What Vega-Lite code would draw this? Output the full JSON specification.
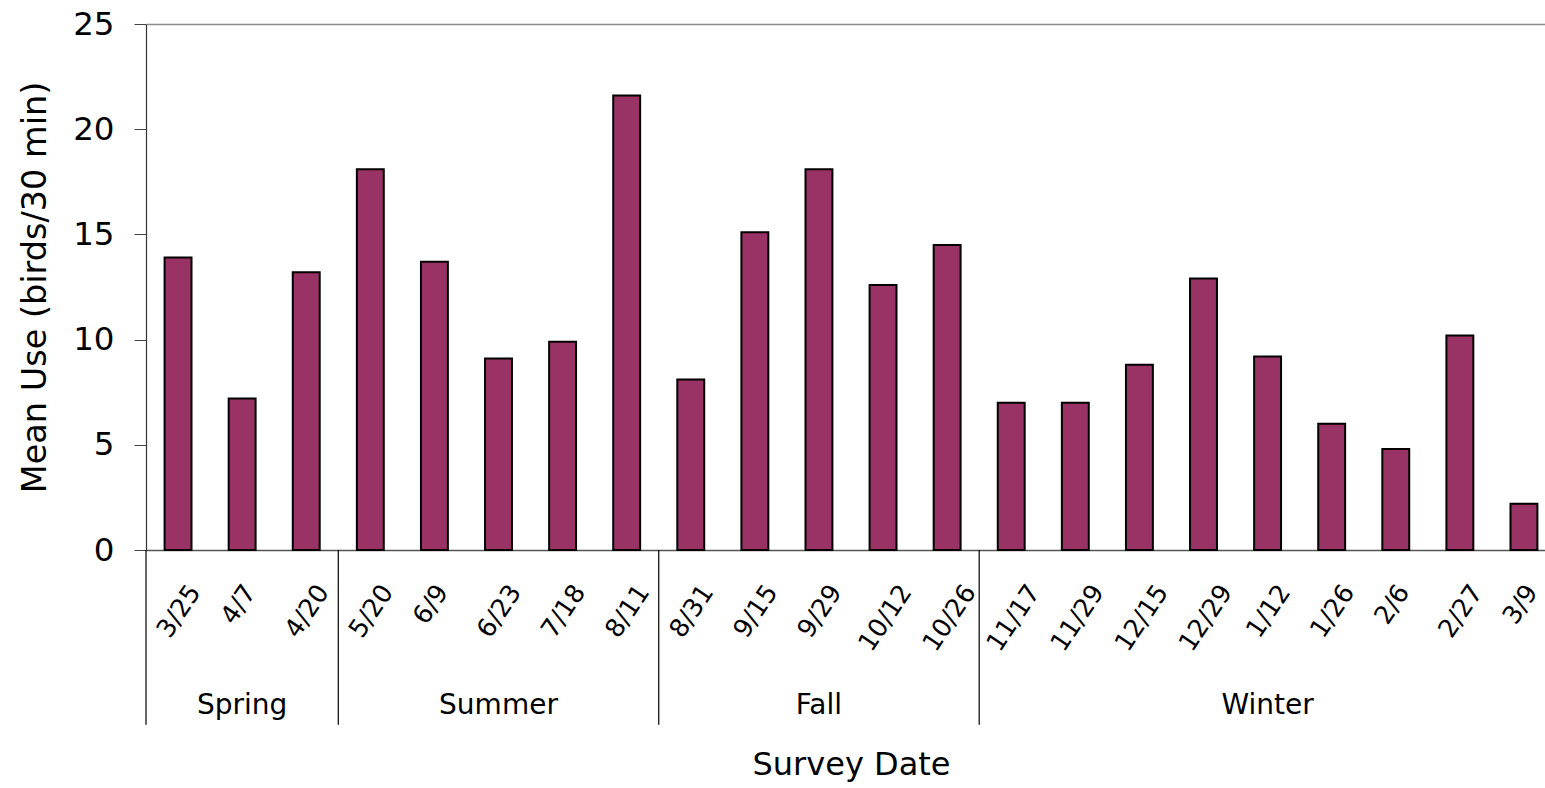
{
  "$schema": "https://vega.github.io/schema/vega-lite/v6.json",
  "autosize": "none",
  "width": 1399,
  "height": 526,
  "padding": {"left": 146, "top": 24, "right": 0, "bottom": 238},
  "background": "white",
  "config": {"font": "DejaVu Sans", "view": {"stroke": null}},
  "datasets": {
    "surveys": [
      {"date": "3/25", "season": "Spring", "mean_use": 13.9},
      {"date": "4/7", "season": "Spring", "mean_use": 7.2},
      {"date": "4/20", "season": "Spring", "mean_use": 13.2},
      {"date": "5/20", "season": "Summer", "mean_use": 18.1},
      {"date": "6/9", "season": "Summer", "mean_use": 13.7},
      {"date": "6/23", "season": "Summer", "mean_use": 9.1},
      {"date": "7/18", "season": "Summer", "mean_use": 9.9},
      {"date": "8/11", "season": "Summer", "mean_use": 21.6},
      {"date": "8/31", "season": "Fall", "mean_use": 8.1},
      {"date": "9/15", "season": "Fall", "mean_use": 15.1},
      {"date": "9/29", "season": "Fall", "mean_use": 18.1},
      {"date": "10/12", "season": "Fall", "mean_use": 12.6},
      {"date": "10/26", "season": "Fall", "mean_use": 14.5},
      {"date": "11/17", "season": "Winter", "mean_use": 7.0},
      {"date": "11/29", "season": "Winter", "mean_use": 7.0},
      {"date": "12/15", "season": "Winter", "mean_use": 8.8},
      {"date": "12/29", "season": "Winter", "mean_use": 12.9},
      {"date": "1/12", "season": "Winter", "mean_use": 9.2},
      {"date": "1/26", "season": "Winter", "mean_use": 6.0},
      {"date": "2/6", "season": "Winter", "mean_use": 4.8},
      {"date": "2/27", "season": "Winter", "mean_use": 10.2},
      {"date": "3/9", "season": "Winter", "mean_use": 2.2}
    ],
    "seasons": [
      {"season": "Spring", "first": "3/25", "middle": "4/7"},
      {"season": "Summer", "first": "5/20", "middle": "6/23"},
      {"season": "Fall", "first": "8/31", "middle": "9/29"},
      {"season": "Winter", "first": "11/17", "middle": "1/12"}
    ]
  },
  "layer": [
    {
      "data": {"name": "surveys"},
      "mark": {"type": "bar", "fill": "#993366", "stroke": "#000000", "strokeWidth": 2},
      "encoding": {
        "x": {
          "field": "date",
          "type": "nominal",
          "title": "Survey Date",
          "scale": {
            "domain": ["3/25", "4/7", "4/20", "5/20", "6/9", "6/23", "7/18", "8/11", "8/31", "9/15", "9/29", "10/12", "10/26", "11/17", "11/29", "12/15", "12/29", "1/12", "1/26", "2/6", "2/27", "3/9"],
            "range": [0, 1410],
            "paddingInner": 0.58,
            "paddingOuter": 0.29
          },
          "axis": {
            "labelAngle": -56,
            "labelFontSize": 25.5,
            "labelColor": "#000000",
            "labelPadding": 37,
            "labelOffset": {
              "condition": [
                {"test": "length(datum.label) <= 3", "value": 8},
                {"test": "length(datum.label) >= 5", "value": 23}
              ],
              "value": 17
            },
            "ticks": false,
            "tickSize": 0,
            "domainColor": "#555555",
            "domainWidth": 1.5,
            "titleFontSize": 32,
            "titleFontWeight": "normal",
            "titleColor": "#000000",
            "titlePadding": 94
          }
        },
        "y": {
          "field": "mean_use",
          "type": "quantitative",
          "title": "Mean Use (birds/30 min)",
          "scale": {"domain": [0, 25], "nice": false},
          "axis": {
            "values": [0, 5, 10, 15, 20, 25],
            "grid": true,
            "gridColor": "#8c8c8c",
            "gridWidth": 1.5,
            "gridOpacity": {"condition": {"test": "datum.value === 25", "value": 1}, "value": 0},
            "tickSize": 12,
            "tickColor": "#444444",
            "domainColor": "#333333",
            "domainWidth": 1.2,
            "labelFontSize": 32.5,
            "labelPadding": 20,
            "labelColor": "#000000",
            "titleFontSize": 33.5,
            "titleFontWeight": "normal",
            "titleColor": "#000000",
            "titlePadding": 20
          }
        }
      }
    },
    {
      "data": {"name": "seasons"},
      "mark": {"type": "rule", "color": "#000000", "strokeWidth": 1.2},
      "encoding": {
        "x": {"field": "first", "type": "nominal", "title": "Survey Date", "bandPosition": -0.69},
        "y": {"datum": 0},
        "y2": {"datum": -8.3}
      }
    },
    {
      "data": {"name": "seasons"},
      "mark": {"type": "text", "fontSize": 28, "baseline": "alphabetic", "color": "#000000"},
      "encoding": {
        "x": {"field": "middle", "type": "nominal", "title": "Survey Date"},
        "y": {"datum": -7.78},
        "text": {"field": "season"}
      }
    }
  ]
}
